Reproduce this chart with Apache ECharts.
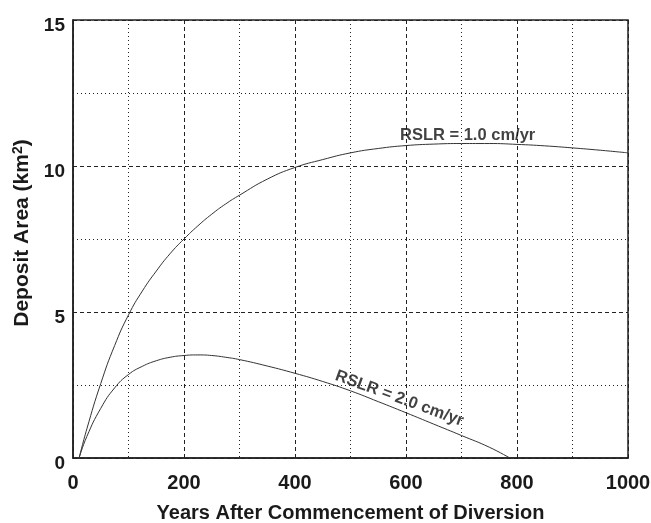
<!DOCTYPE html>
<html>
<head>
<meta charset="utf-8">
<script src="https://cdn.jsdelivr.net/npm/echarts@6/dist/echarts.min.js"></script>
<style>html,body{margin:0;padding:0;background:#fff}#c{width:651px;height:523px}</style>
</head>
<body>
<div id="c"></div>
<script>
// Data
var years1 = [11, 25, 50, 75, 100, 125, 150, 175, 200, 225, 250, 275, 300, 350, 400, 450, 500, 550, 600, 650, 700, 750, 800, 850, 900, 950, 1000];
var area1  = [0, 1.0, 2.55, 3.85, 4.9, 5.72, 6.4, 7.0, 7.5, 7.95, 8.35, 8.7, 9.0, 9.55, 9.95, 10.22, 10.45, 10.6, 10.7, 10.75, 10.77, 10.77, 10.74, 10.69, 10.62, 10.54, 10.45];
var years2 = [11, 25, 50, 75, 100, 125, 150, 175, 200, 225, 250, 275, 300, 350, 400, 450, 500, 550, 600, 650, 700, 750, 787];
var area2  = [0, 0.74, 1.7, 2.4, 2.86, 3.14, 3.33, 3.45, 3.51, 3.53, 3.51, 3.45, 3.37, 3.15, 2.9, 2.62, 2.3, 1.93, 1.55, 1.16, 0.77, 0.37, 0];
var seriesNames = ['RSLR = 1.0 cm/yr', 'RSLR = 2.0 cm/yr'];
var labelPos = [[711, 11.04], [588, 2.04]];
var xTicks = [0, 200, 400, 600, 800, 1000];
var yTicks = [0, 5, 10, 15];
var xTitle = 'Years After Commencement of Diversion';
var yTitle = 'Deposit Area (km';

function pairs(xs, ys) { return xs.map(function (x, i) { return [x, ys[i]]; }); }

var txt = '#1a1a1a';
var font = 'Liberation Sans, Arial, Helvetica, sans-serif';
var chart = echarts.init(document.getElementById('c'), null, { renderer: 'canvas' });
chart.setOption({
  animation: false,
  backgroundColor: '#fff',
  grid: { left: 73, right: 23, top: 20, bottom: 65, outerBoundsMode: 'none', containLabel: false,
    show: true, borderColor: '#222', borderWidth: 1.5, backgroundColor: 'transparent' },
  xAxis: {
    type: 'value', min: xTicks[0], max: xTicks[xTicks.length - 1], interval: 200,
    name: xTitle, nameLocation: 'middle', nameGap: 45,
    nameTextStyle: { fontFamily: font, fontWeight: 'bold', fontSize: 20, color: txt },
    axisLine: { show: true, lineStyle: { color: '#222', width: 1.5 } },
    axisTick: { show: false },
    axisLabel: { fontFamily: font, fontWeight: 'bold', fontSize: 20, color: txt, margin: 15,
      formatter: function (v) { return xTicks.indexOf(v) >= 0 ? String(v) : ''; } },
    splitLine: { show: true, lineStyle: { color: '#222', width: 1, type: [4, 3] } },
    minorTick: { show: false, splitNumber: 2 },
    minorSplitLine: { show: true, lineStyle: { color: '#222', width: 1, type: [1, 3] } }
  },
  yAxis: {
    type: 'value', min: yTicks[0], max: yTicks[yTicks.length - 1], interval: 5,
    name: '{a|' + yTitle + '}{s|2}{a|)}', nameLocation: 'middle', nameGap: 37, nameRotate: 90,
    nameTextStyle: { padding: [0, 0, 0, 12], rich: {
      a: { fontFamily: font, fontWeight: 'bold', fontSize: 21, color: txt },
      s: { fontFamily: font, fontWeight: 'bold', fontSize: 14, color: txt, verticalAlign: 'top', padding: [0, 0, 9, 0] }
    } },
    axisLine: { show: true, lineStyle: { color: '#222', width: 1.5 } },
    axisTick: { show: false },
    axisLabel: { fontFamily: font, fontWeight: 'bold', fontSize: 19, color: txt, margin: 8,
      verticalAlign: 'top', lineHeight: 12,
      formatter: function (v) { return yTicks.indexOf(v) >= 0 ? String(v) : ''; } },
    splitLine: { show: true, lineStyle: { color: '#222', width: 1, type: [4, 3] } },
    minorTick: { show: false, splitNumber: 2 },
    minorSplitLine: { show: true, lineStyle: { color: '#222', width: 1, type: [1, 3] } }
  },
  series: [
    { type: 'line', name: seriesNames[0], data: pairs(years1, area1), smooth: 0.5, showSymbol: false,
      lineStyle: { color: '#333', width: 1 }, z: 3 },
    { type: 'line', name: seriesNames[1], data: pairs(years2, area2), smooth: 0.5, showSymbol: false,
      lineStyle: { color: '#333', width: 1 }, z: 3 },
    { type: 'scatter', symbolSize: 0, z: 4,
      data: [
        { value: labelPos[0], label: { formatter: seriesNames[0], rotate: 0 } },
        { value: labelPos[1], label: { formatter: seriesNames[1], rotate: -20 } }
      ],
      label: { show: true, position: 'inside', fontFamily: font, fontWeight: 'bold', fontSize: 16.5, color: '#111' } }
  ]
});
</script>
</body>
</html>
